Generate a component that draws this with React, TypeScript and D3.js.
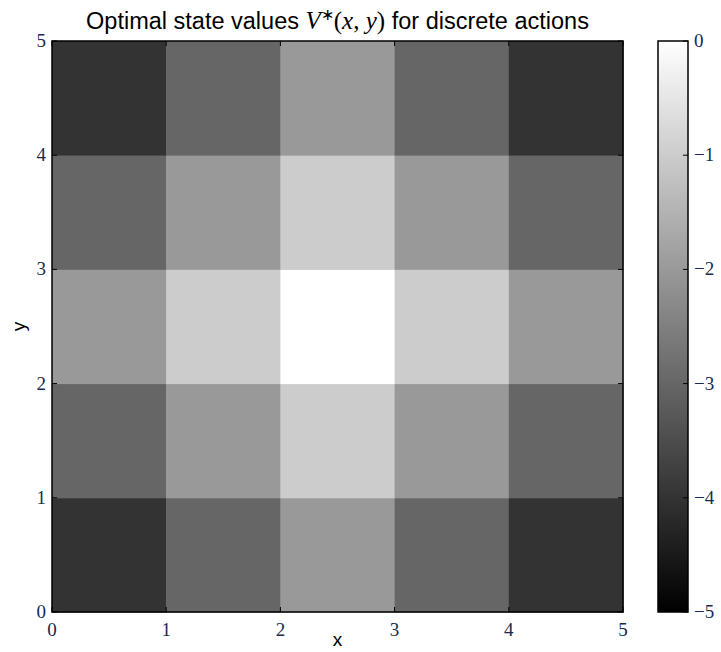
import React, { useRef, useEffect } from 'react';
import * as d3 from 'd3';

// grid values V*(x, y), rows from y=0 (bottom) to y=4 (top)
const row0 = [-4, -3, -2, -3, -4];
const row1 = [-3, -2, -1, -2, -3];
const row2 = [-2, -1, 0, -1, -2];
const row3 = [-3, -2, -1, -2, -3];
const row4 = [-4, -3, -2, -3, -4];
const rows = [row0, row1, row2, row3, row4];

const axisTicks = [0, 1, 2, 3, 4, 5];
const colorTicks = [0, -1, -2, -3, -4, -5];

const App = () => {
  const ref = useRef<SVGSVGElement>(null);

  useEffect(() => {
    if (!ref.current) return;
    const svg = d3.select(ref.current);
    svg.selectAll('*').remove();

    const left = 52, top = 41, size = 571;
    const x = d3.scaleLinear().domain([0, 5]).range([left, left + size]);
    const y = d3.scaleLinear().domain([0, 5]).range([top + size, top]);
    const color = (v: number) => d3.interpolateRgb('#000', '#fff')((v + 5) / 5);

    const cells = rows.flatMap((r, j) => r.map((v, i) => ({ i, j, v })));
    svg.append('g').selectAll('rect').data(cells).enter().append('rect')
      .attr('x', d => x(d.i))
      .attr('y', d => y(d.j + 1))
      .attr('width', x(1) - x(0) + 0.5)
      .attr('height', y(0) - y(1) + 0.5)
      .attr('fill', d => color(d.v));

    // frame
    svg.append('rect')
      .attr('x', left).attr('y', top).attr('width', size).attr('height', size)
      .attr('fill', 'none').attr('stroke', '#000').attr('stroke-width', 1.5);

    const tickLen = 5;
    const serif = '"Liberation Serif", serif';
    const tg = svg.append('g').attr('stroke', '#000').attr('stroke-width', 1);
    axisTicks.forEach(t => {
      tg.append('line').attr('x1', x(t)).attr('x2', x(t)).attr('y1', y(0)).attr('y2', y(0) - tickLen);
      tg.append('line').attr('x1', x(t)).attr('x2', x(t)).attr('y1', y(5)).attr('y2', y(5) + tickLen);
      tg.append('line').attr('y1', y(t)).attr('y2', y(t)).attr('x1', x(0)).attr('x2', x(0) + tickLen);
      tg.append('line').attr('y1', y(t)).attr('y2', y(t)).attr('x1', x(5)).attr('x2', x(5) - tickLen);
    });

    svg.append('g').selectAll('text').data(axisTicks).enter().append('text')
      .attr('x', d => x(d)).attr('y', y(0) + 24)
      .attr('text-anchor', 'middle').attr('font-family', serif).attr('font-size', 19)
      .attr('fill', '#1a2a50')
      .text(d => d);
    svg.append('g').selectAll('text').data(axisTicks).enter().append('text')
      .attr('x', x(0) - 6).attr('y', d => y(d) + 6)
      .attr('text-anchor', 'end').attr('font-family', serif).attr('font-size', 19)
      .attr('fill', '#1a2a50')
      .text(d => d);

    // axis labels
    svg.append('text').attr('x', x(2.5)).attr('y', 646)
      .attr('text-anchor', 'middle').attr('font-family', '"Liberation Sans", Arial, sans-serif')
      .attr('font-size', 19).text('x');
    svg.append('text').attr('transform', `translate(25,${y(2.5)}) rotate(-90)`)
      .attr('text-anchor', 'middle').attr('font-family', '"Liberation Sans", Arial, sans-serif')
      .attr('font-size', 19).text('y');

    // title
    const title = svg.append('text').attr('x', x(2.5)).attr('y', 29)
      .attr('text-anchor', 'middle').attr('font-family', '"Liberation Sans", Arial, sans-serif')
      .attr('font-size', 23.5);
    title.append('tspan').text('Optimal state values ');
    title.append('tspan').attr('font-family', serif).attr('font-style', 'italic').attr('font-size', 25).text('V');
    title.append('tspan').attr('font-family', serif).attr('font-size', 16).attr('dy', -9).text('∗');
    title.append('tspan').attr('font-family', serif).attr('font-size', 25).attr('dy', 9).text('(');
    title.append('tspan').attr('font-family', serif).attr('font-size', 25).attr('font-style', 'italic').text('x');
    title.append('tspan').attr('font-family', serif).attr('font-size', 25).text(', ');
    title.append('tspan').attr('font-family', serif).attr('font-size', 25).attr('font-style', 'italic').text('y');
    title.append('tspan').attr('font-family', serif).attr('font-size', 25).text(')');
    title.append('tspan').text(' for discrete actions');

    // colorbar
    const cbLeft = 658, cbWidth = 30;
    const cy = d3.scaleLinear().domain([-5, 0]).range([top + size, top]);
    const defs = svg.append('defs');
    const grad = defs.append('linearGradient').attr('id', 'cbgrad')
      .attr('x1', 0).attr('x2', 0).attr('y1', 1).attr('y2', 0);
    grad.append('stop').attr('offset', '0%').attr('stop-color', color(-5));
    grad.append('stop').attr('offset', '100%').attr('stop-color', color(0));
    svg.append('rect').attr('x', cbLeft).attr('y', cy(0)).attr('width', cbWidth)
      .attr('height', cy(-5) - cy(0)).attr('fill', 'url(#cbgrad)')
      .attr('stroke', '#000').attr('stroke-width', 1.5);
    const cg = svg.append('g').attr('stroke', '#000').attr('stroke-width', 1);
    colorTicks.forEach(t => {
      cg.append('line').attr('x1', cbLeft + cbWidth).attr('x2', cbLeft + cbWidth - 5)
        .attr('y1', cy(t)).attr('y2', cy(t));
    });
    svg.append('g').selectAll('text').data(colorTicks).enter().append('text')
      .attr('x', cbLeft + cbWidth + 6).attr('y', d => cy(d) + 6)
      .attr('font-family', serif).attr('font-size', 19).attr('fill', '#1a2a50')
      .text(d => (d === 0 ? '0' : `−${-d}`));
  }, []);

  return <svg ref={ref} width={721} height={652} style={{ position: 'absolute', left: 0, top: 0 }} />;
};

export default App;
